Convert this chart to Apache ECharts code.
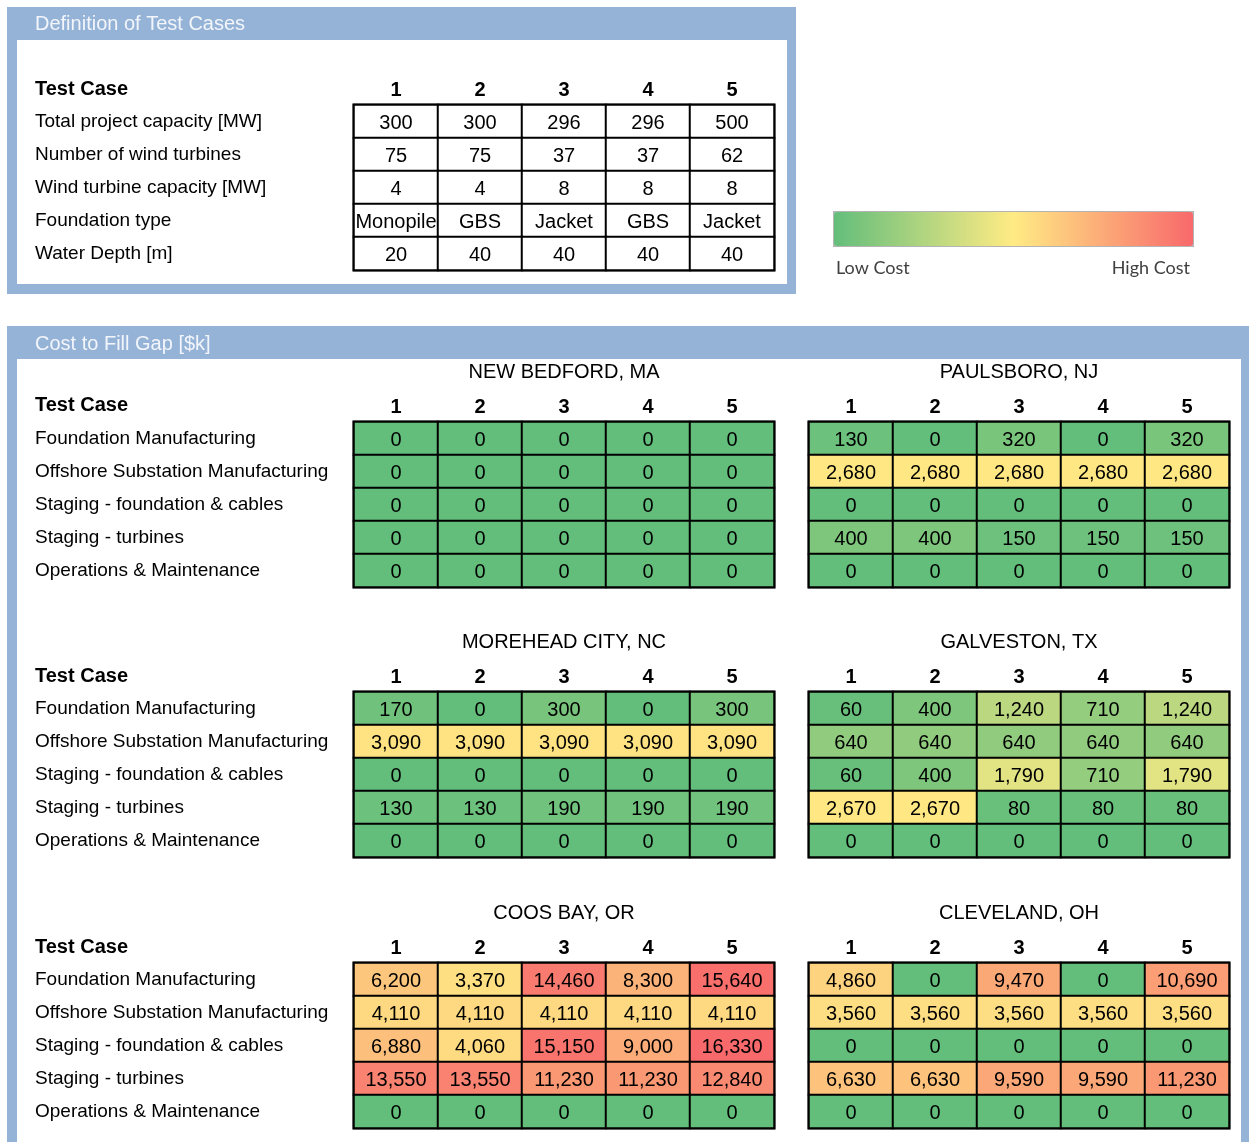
<!DOCTYPE html>
<html>
<head>
<meta charset="utf-8">
<script src="https://cdn.jsdelivr.net/npm/echarts@6/dist/echarts.min.js"></script>
<style>html,body{margin:0;padding:0;background:#fff}#c{width:1249px;height:1142px}</style>
</head>
<body>
<div id="c"></div>
<script>
// ---------- data ----------
const caseIds = ['1', '2', '3', '4', '5'];
const defRows = ['Total project capacity [MW]', 'Number of wind turbines', 'Wind turbine capacity [MW]', 'Foundation type', 'Water Depth [m]'];
const capacityMW = [300, 300, 296, 296, 500];
const turbineCount = [75, 75, 37, 37, 62];
const turbineMW = [4, 4, 8, 8, 8];
const foundationType = ['Monopile', 'GBS', 'Jacket', 'GBS', 'Jacket'];
const waterDepth = [20, 40, 40, 40, 40];

const costRows = ['Foundation Manufacturing', 'Offshore Substation Manufacturing', 'Staging - foundation & cables', 'Staging - turbines', 'Operations & Maintenance'];
const portNames = ['NEW BEDFORD, MA', 'PAULSBORO, NJ', 'MOREHEAD CITY, NC', 'GALVESTON, TX', 'COOS BAY, OR', 'CLEVELAND, OH'];
const newBedford = [
  [0, 0, 0, 0, 0],
  [0, 0, 0, 0, 0],
  [0, 0, 0, 0, 0],
  [0, 0, 0, 0, 0],
  [0, 0, 0, 0, 0]];
const paulsboro = [
  [130, 0, 320, 0, 320],
  [2680, 2680, 2680, 2680, 2680],
  [0, 0, 0, 0, 0],
  [400, 400, 150, 150, 150],
  [0, 0, 0, 0, 0]];
const moreheadCity = [
  [170, 0, 300, 0, 300],
  [3090, 3090, 3090, 3090, 3090],
  [0, 0, 0, 0, 0],
  [130, 130, 190, 190, 190],
  [0, 0, 0, 0, 0]];
const galveston = [
  [60, 400, 1240, 710, 1240],
  [640, 640, 640, 640, 640],
  [60, 400, 1790, 710, 1790],
  [2670, 2670, 80, 80, 80],
  [0, 0, 0, 0, 0]];
const coosBay = [
  [6200, 3370, 14460, 8300, 15640],
  [4110, 4110, 4110, 4110, 4110],
  [6880, 4060, 15150, 9000, 16330],
  [13550, 13550, 11230, 11230, 12840],
  [0, 0, 0, 0, 0]];
const cleveland = [
  [4860, 0, 9470, 0, 10690],
  [3560, 3560, 3560, 3560, 3560],
  [0, 0, 0, 0, 0],
  [6630, 6630, 9590, 9590, 11230],
  [0, 0, 0, 0, 0]];
const portData = [newBedford, paulsboro, moreheadCity, galveston, coosBay, cleveland];

// ---------- styling ----------
const FONT = '"Liberation Sans", Arial, sans-serif';
const FS = 20;      // numbers / headers
const FS_ROW = 19;  // row labels
const BLUE = '#95B3D7';
const colorMid = 2200; // value shown as pure yellow (3-colour scale midpoint)
const allVals = portData.flat(2);
const colorMax = Math.max(...allVals);
function scalePos(v) { // 3-colour scale position 0..1 (0 green, .5 yellow, 1 red)
  return v <= colorMid ? 0.5 * v / colorMid : 0.5 + 0.5 * (v - colorMid) / (colorMax - colorMid);
}

const defTable = [capacityMW, turbineCount, turbineMW, foundationType, waterDepth];

const grids = [{ left: 354, top: 105, width: 420, height: 165, show: true, borderColor: '#000', borderWidth: 3, backgroundColor: 'transparent' }];
const lefts = [354, 809], tops = [422, 692, 963];
portNames.forEach((p, i) => grids.push({ left: lefts[i % 2], top: tops[Math.floor(i / 2)], width: 420, height: 165, show: true, borderColor: '#000', borderWidth: 3, backgroundColor: 'transparent' }));

function xAx(gi, name) {
  return {
    type: 'category', gridIndex: gi, data: caseIds, position: 'top',
    axisLine: { show: false }, axisTick: { show: false }, splitLine: { show: false },
    axisLabel: { fontFamily: FONT, fontSize: FS, fontWeight: 'bold', color: '#000', margin: 5 },
    name: name || '', nameLocation: 'middle', nameGap: 40,
    nameTextStyle: { fontFamily: FONT, fontSize: FS, color: '#000' }
  };
}
function yAx(gi, rows, showLabel) {
  return {
    type: 'category', gridIndex: gi, data: rows, inverse: true,
    axisLine: { show: false }, axisTick: { show: false }, splitLine: { show: false },
    axisLabel: { show: showLabel, align: 'left', margin: 319, fontFamily: FONT, fontSize: FS_ROW, color: '#000', padding: [3, 0, 0, 0] }
  };
}

const xAxes = [xAx(0)], yAxes = [yAx(0, defRows, true)];
portNames.forEach((p, i) => { xAxes.push(xAx(i + 1, p)); yAxes.push(yAx(i + 1, costRows, i % 2 === 0)); });

const series = [];
const defData = [];
defTable.forEach((row, r) => row.forEach((v, c) => defData.push({ value: [c, r, 0], name: String(v) })));
series.push({
  type: 'heatmap', xAxisIndex: 0, yAxisIndex: 0, data: defData,
  itemStyle: { color: '#ffffff', borderColor: '#000', borderWidth: 2 },
  label: { show: true, formatter: p => p.name, fontFamily: FONT, fontSize: FS, color: '#000', offset: [0, 2] },
  emphasis: { disabled: true }
});
portData.forEach((m, i) => {
  const d = [];
  m.forEach((row, r) => row.forEach((v, c) => d.push([c, r, v, scalePos(v)])));
  series.push({
    type: 'heatmap', xAxisIndex: i + 1, yAxisIndex: i + 1, data: d,
    itemStyle: { borderColor: '#000', borderWidth: 2 },
    label: { show: true, formatter: p => p.value[2].toLocaleString('en-US'), fontFamily: FONT, fontSize: FS, color: '#000', offset: [0, 2] },
    emphasis: { disabled: true }
  });
});

const testCaseYs = [89, 405, 676, 947];
const graphics = [
  { type: 'rect', z: -20, shape: { x: 7, y: 7, width: 789, height: 287 }, style: { fill: BLUE } },
  { type: 'rect', z: -19, shape: { x: 17, y: 40, width: 770, height: 244 }, style: { fill: '#fff' } },
  { type: 'rect', z: -20, shape: { x: 7, y: 326, width: 1242, height: 820 }, style: { fill: BLUE } },
  { type: 'rect', z: -19, shape: { x: 17, y: 359, width: 1224, height: 790 }, style: { fill: '#fff' } },
  { type: 'text', z: 10, x: 35, y: 24, style: { text: 'Definition of Test Cases', fill: '#F2F5FA', font: FS + 'px ' + FONT, textVerticalAlign: 'middle' } },
  { type: 'text', z: 10, x: 35, y: 344, style: { text: 'Cost to Fill Gap [$k]', fill: '#F2F5FA', font: FS + 'px ' + FONT, textVerticalAlign: 'middle' } },
  { type: 'text', z: 10, x: 836, y: 268, style: { text: 'Low Cost', fill: '#404040', font: '18px Lato, "Open Sans", sans-serif', textVerticalAlign: 'middle' } },
  { type: 'text', z: 10, x: 1190, y: 268, style: { text: 'High Cost', fill: '#404040', font: '18px Lato, "Open Sans", sans-serif', textAlign: 'right', textVerticalAlign: 'middle' } }
];
testCaseYs.forEach(y => graphics.push({ type: 'text', z: 10, x: 35, y: y, style: { text: 'Test Case', fill: '#000', font: 'bold ' + FS + 'px ' + FONT, textVerticalAlign: 'middle' } }));

const chart = echarts.init(document.getElementById('c'), null, { renderer: 'canvas' });
chart.setOption({
  animation: false,
  backgroundColor: '#fff',
  grid: grids,
  xAxis: xAxes,
  yAxis: yAxes,
  visualMap: {
    type: 'continuous', seriesIndex: [1, 2, 3, 4, 5, 6], dimension: 3,
    min: 0, max: 1, orient: 'horizontal', left: 833, top: 211,
    itemWidth: 34, itemHeight: 359, calculable: false, showLabel: false, text: null,
    padding: 0, borderColor: '#B4B4B4', borderWidth: 2, hoverLink: false,
    inRange: { color: ['#63BE7B', '#FFEB84', '#F8696B'] }
  },
  graphic: { elements: graphics },
  series: series
});
</script>
</body>
</html>
